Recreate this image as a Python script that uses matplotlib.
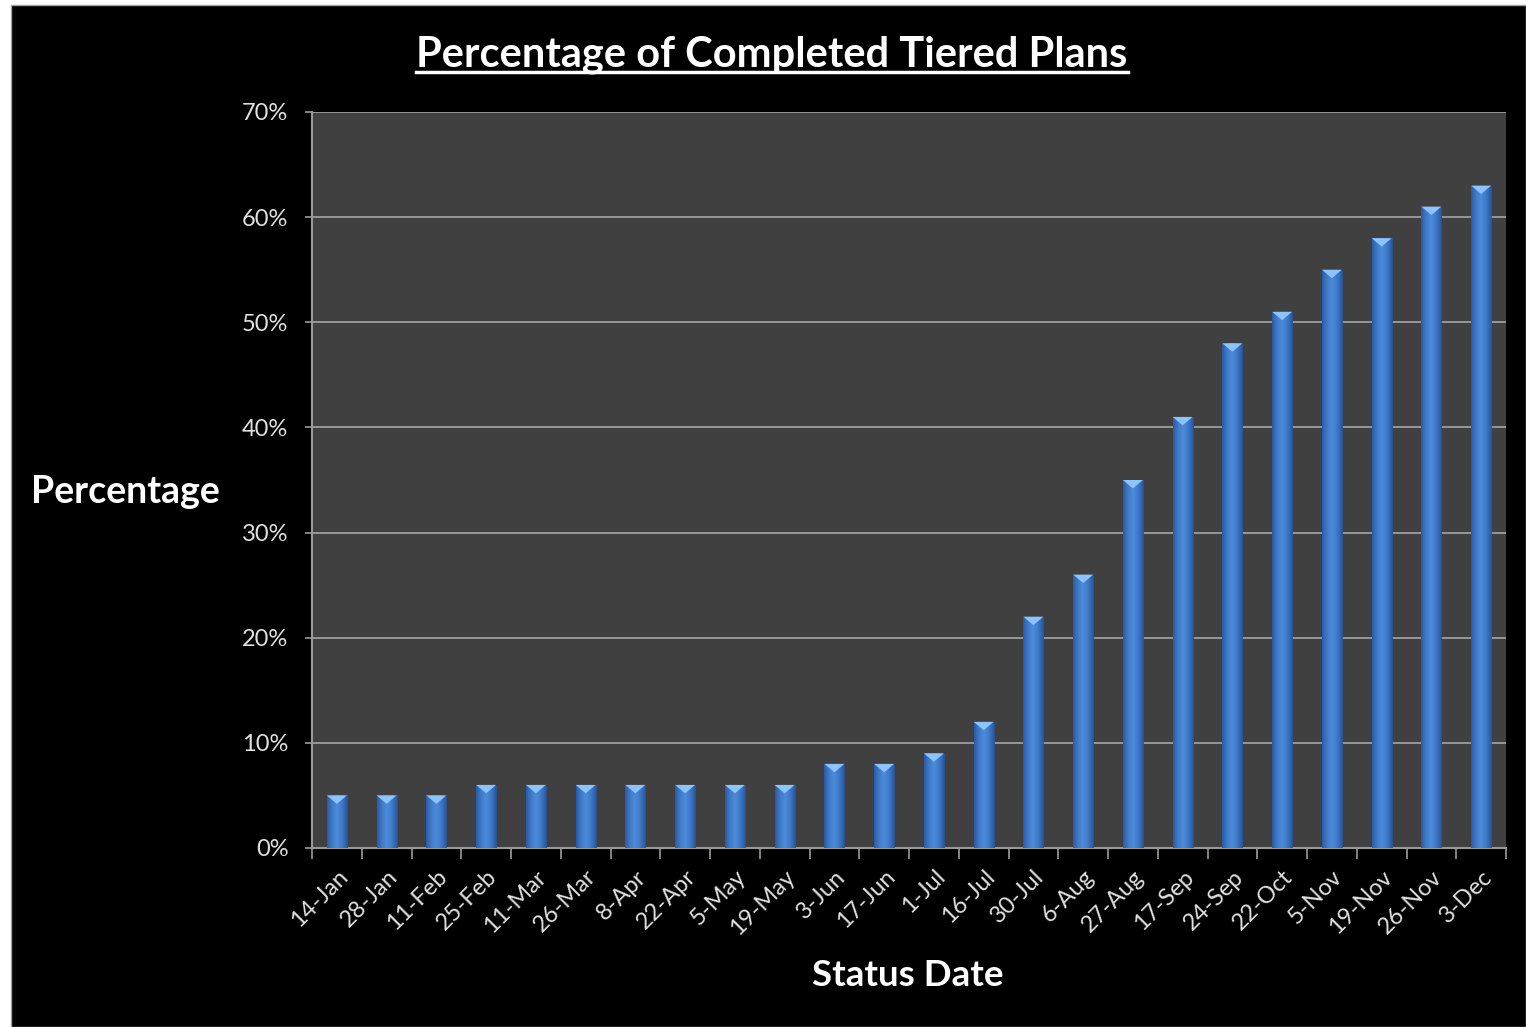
import matplotlib
matplotlib.use('Agg')
import matplotlib.pyplot as plt
from matplotlib.patches import Rectangle, Polygon
import numpy as np

plt.rcParams['font.family'] = ['Lato', 'DejaVu Sans']

# data
dates = ['14-Jan', '28-Jan', '11-Feb', '25-Feb', '11-Mar', '26-Mar', '8-Apr', '22-Apr',
         '5-May', '19-May', '3-Jun', '17-Jun', '1-Jul', '16-Jul', '30-Jul', '6-Aug',
         '27-Aug', '17-Sep', '24-Sep', '22-Oct', '5-Nov', '19-Nov', '26-Nov', '3-Dec']
pct = [5, 5, 5, 6, 6, 6, 6, 6, 6, 6, 8, 8, 9, 12, 22, 26, 35, 41, 48, 51, 55, 58, 61, 63]
yticks = [0, 10, 20, 30, 40, 50, 60, 70]

fig = plt.figure(figsize=(15.26, 10.27), dpi=100, facecolor='white')
# black chart area with white margin on top/left like the excel sheet
bg = Rectangle((11/1526, 0), 1 - 11/1526, 1 - 5/1027, transform=fig.transFigure,
               facecolor='black', edgecolor='#a0a0a0', lw=1, zorder=-10)
fig.add_artist(bg)

ax = fig.add_axes([312/1526, 1 - 848/1027, (1506 - 312)/1526, (848 - 112)/1027])
ax.set_facecolor('#404040')

x = np.arange(len(dates))
w = 0.4
bars = ax.bar(x, pct, width=w, color='#3a76c4', zorder=3, edgecolor='#2a5290', lw=0.6)

# horizontal gradient inside each bar
grad = np.linspace(-1, 1, 64)
grad = 1 - np.abs(grad) ** 1.5
grad = grad[np.newaxis, :]
cmap = matplotlib.colors.LinearSegmentedColormap.from_list('b', ['#2a5aa6', '#4a8ad8'])
for b, v in zip(bars, pct):
    im = ax.imshow(grad, cmap=cmap, aspect='auto', zorder=3.5,
                   extent=(b.get_x(), b.get_x() + w, 0, v))
    im.set_clip_path(b)
    # light bevel on top
    ax.add_patch(Polygon([(b.get_x(), v), (b.get_x() + w, v), (b.get_x() + w / 2, v - 0.8)],
                         closed=True, facecolor='#8cc4ff', edgecolor='none', zorder=4))

ax.set_xlim(-0.5, len(dates) - 0.5)
ax.set_ylim(0, 70)
ax.set_yticks(yticks)
ax.set_yticklabels([f'{t}%' for t in yticks])
ax.yaxis.grid(True, color='#a6a6a6', lw=1.2, zorder=1)
ax.set_axisbelow(True)

ax.set_xticks(x)
ax.set_xticklabels(dates, rotation=45, ha='right', rotation_mode='anchor')
ax.set_xticks(np.arange(len(dates) + 1) - 0.5, minor=True)
ax.tick_params(axis='x', which='major', length=0, pad=13, labelsize=17, labelcolor='#e0e0e0')
ax.tick_params(axis='x', which='minor', length=8, width=1.2, color='#9a9a9a', direction='out')
ax.tick_params(axis='y', length=5, width=1.2, color='#9a9a9a', labelsize=17,
               labelcolor='#e0e0e0', pad=12)

for s in ['top', 'right']:
    ax.spines[s].set_visible(False)
for s in ['left', 'bottom']:
    ax.spines[s].set_color('#9a9a9a')
    ax.spines[s].set_linewidth(1.5)

t = fig.text(772/1526, 1 - 55/1027, 'Percentage of Completed Tiered Plans', color='white',
             fontsize=30, fontweight='bold', ha='center', va='center')
# underline title
fig.canvas.draw()
bb = t.get_window_extent().transformed(fig.transFigure.inverted())
fig.add_artist(plt.Line2D([bb.x0, bb.x1], [bb.y0 + 0.002, bb.y0 + 0.002], color='white',
                          lw=2.5, transform=fig.transFigure))

fig.text(125/1526, 1 - 492/1027, 'Percentage', color='white', fontsize=27,
         fontweight='bold', ha='center', va='center')
fig.text(908/1526, 1 - 975/1027, 'Status Date', color='white', fontsize=26.5,
         fontweight='bold', ha='center', va='center')

fig.savefig('out.png', dpi=100, facecolor=fig.get_facecolor())
